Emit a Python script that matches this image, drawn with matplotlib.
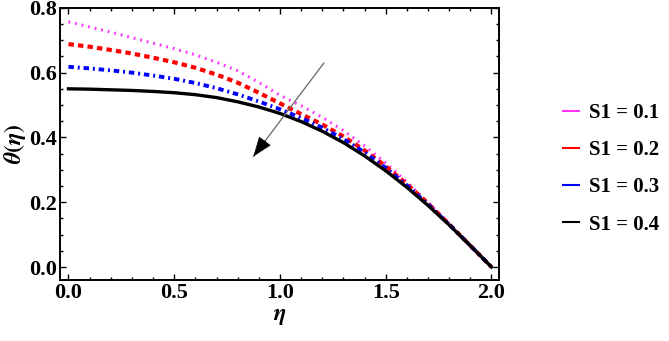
import numpy as np
import matplotlib
matplotlib.use("Agg")
import matplotlib.pyplot as plt
from matplotlib.ticker import MultipleLocator, FormatStrFormatter

# eta grid and theta(eta), one list per S1 value
eta = [0.0, 0.1, 0.2, 0.3, 0.4, 0.5, 0.6, 0.7, 0.8, 0.9, 1.0,
       1.1, 1.2, 1.3, 1.4, 1.5, 1.6, 1.7, 1.8, 1.9, 2.0]
theta_s01 = [0.757, 0.741, 0.725, 0.708, 0.691, 0.674, 0.655, 0.632, 0.606, 0.570, 0.530,
             0.498, 0.462, 0.421, 0.374, 0.321, 0.262, 0.199, 0.134, 0.067, 0.0]
theta_s02 = [0.688, 0.680, 0.670, 0.659, 0.646, 0.632, 0.615, 0.594, 0.569, 0.538, 0.505,
             0.472, 0.440, 0.403, 0.360, 0.311, 0.256, 0.196, 0.132, 0.066, 0.0]
theta_s03 = [0.618, 0.613, 0.607, 0.600, 0.591, 0.581, 0.568, 0.552, 0.533, 0.511, 0.487,
             0.460, 0.430, 0.395, 0.354, 0.306, 0.252, 0.193, 0.131, 0.066, 0.0]
theta_s04 = [0.550, 0.549, 0.547, 0.545, 0.542, 0.538, 0.532, 0.523, 0.510, 0.494, 0.474,
             0.449, 0.419, 0.384, 0.343, 0.297, 0.246, 0.190, 0.130, 0.066, 0.0]
labels = ["S1 = 0.1", "S1 = 0.2", "S1 = 0.3", "S1 = 0.4"]
colors = ['#ff33ff', '#ff0000', '#0000ff', 'black']

plt.rcParams['font.family'] = ['Liberation Serif', 'DejaVu Serif']
plt.rcParams['mathtext.fontset'] = 'stix'

fig = plt.figure(figsize=(6.69, 3.41), dpi=100)
ax = fig.add_axes([0.0897, 0.179, 0.656, 0.798])

ax.plot(eta, theta_s01, color=colors[0], lw=2.2, linestyle=(0, (0.6, 1.6)))
ax.plot(eta, theta_s02, color=colors[1], lw=3.0, linestyle=(0, (1.3, 1.0)))
ax.plot(eta, theta_s03, color=colors[2], lw=2.8, linestyle=(0, (1.4, 1.0, 0.5, 1.0)))
ax.plot(eta, theta_s04, color=colors[3], lw=2.4)

ax.set_xlim(-0.04, 2.035)
ax.set_ylim(-0.04, 0.80)
ax.xaxis.set_major_locator(MultipleLocator(0.5))
ax.xaxis.set_minor_locator(MultipleLocator(0.1))
ax.yaxis.set_major_locator(MultipleLocator(0.2))
ax.yaxis.set_minor_locator(MultipleLocator(0.05))
ax.xaxis.set_major_formatter(FormatStrFormatter('%.1f'))
ax.yaxis.set_major_formatter(FormatStrFormatter('%.1f'))
ax.tick_params(which='both', direction='in', top=True, right=True, width=1.0)
ax.tick_params(which='major', length=4, labelsize=16, pad=2)
ax.tick_params(which='minor', length=2.5)
for lab in ax.get_xticklabels() + ax.get_yticklabels():
    lab.set_fontweight('bold')
for s in ax.spines.values():
    s.set_linewidth(1.4)

ax.set_xlabel(r'$\boldsymbol{\eta}$', fontsize=17, labelpad=2)
ax.set_ylabel(r'$\boldsymbol{\theta(\eta)}$', fontsize=17, labelpad=1)

# arrow showing direction of increasing S1: thin gray shaft, black head
ax.annotate('', xy=(0.874, 0.341), xytext=(1.208, 0.630),
            arrowprops=dict(arrowstyle='-', color='0.4', lw=0.9, shrinkA=0, shrinkB=0))
ax.annotate('', xy=(0.874, 0.341), xytext=(0.93, 0.39),
            arrowprops=dict(arrowstyle='-|>,head_length=0.65,head_width=0.24', color='black',
                            lw=0.5, mutation_scale=20, shrinkA=0, shrinkB=0))

handles = [plt.Line2D([], [], color=c, lw=1.5, linestyle='-') for c in colors]
fig.legend(handles, labels, loc='center left', bbox_to_anchor=(0.8415, 0.505),
           frameon=False, handlelength=0.75, handletextpad=0.5,
           labelspacing=0.83, borderpad=0, borderaxespad=0,
           prop={'family': 'Liberation Serif', 'weight': 'bold', 'size': 15})

fig.savefig('out.png', dpi=100)
